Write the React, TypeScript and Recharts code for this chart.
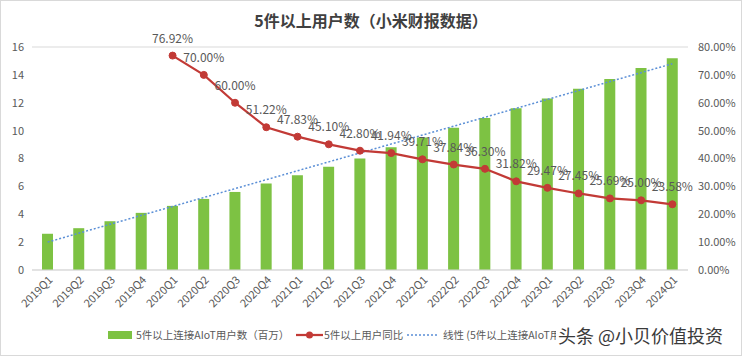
import React from "react";
import {
  ComposedChart,
  Bar,
  Line,
  XAxis,
  YAxis,
  CartesianGrid,
} from "recharts";

const quarters = [
  "2019Q1", "2019Q2", "2019Q3", "2019Q4",
  "2020Q1", "2020Q2", "2020Q3", "2020Q4",
  "2021Q1", "2021Q2", "2021Q3", "2021Q4",
  "2022Q1", "2022Q2", "2022Q3", "2022Q4",
  "2023Q1", "2023Q2", "2023Q3", "2023Q4",
  "2024Q1",
];

const users = [
  2.6, 3.0, 3.5, 4.1,
  4.6, 5.1, 5.6, 6.2,
  6.8, 7.4, 8.0, 8.8,
  9.5, 10.2, 10.9, 11.6,
  12.3, 13.0, 13.7, 14.5,
  15.2,
];

const yoy: (number | null)[] = [
  null, null, null, null,
  76.92, 70.0, 60.0, 51.22,
  47.83, 45.1, 42.8, 41.94,
  39.71, 37.84, 36.3, 31.82,
  29.47, 27.45, 25.69, 25.0,
  23.58,
];

// linear trendline: only its two ends
const trend: (number | null)[] = [
  2.0, null, null, null, null, null, null, null, null, null, null,
  null, null, null, null, null, null, null, null, null, 14.8,
];

const leftTicks = [0, 2, 4, 6, 8, 10, 12, 14, 16];
const rightTicks = [0, 10, 20, 30, 40, 50, 60, 70, 80];

const title = "5件以上用户数（小米财报数据）";
const seriesUsers = "5件以上连接AIoT用户数（百万）";
const seriesYoy = "5件以上用户同比";
const seriesTrend = "线性 (5件以上连接AIoT用户数（百万）)";
const watermark = "头条 @小贝价值投资";

const data = quarters.map((q, i) => ({
  q,
  users: users[i],
  yoy: yoy[i],
  trend: trend[i],
}));

const FONT = '"Noto Sans CJK SC", "Noto Sans", sans-serif';
const GRAY = "#595959";
const GREEN = "#7dc243";
const RED = "#c23a36";
const BLUE = "#5b8fd6";

const XTick = (props: any) => {
  const { x, y, payload } = props;
  return (
    <g transform={`translate(${x + 3},${y + 6}) rotate(-45)`}>
      <text
        x={0}
        y={0}
        dy="0.35em"
        textAnchor="end"
        fill={GRAY}
        fontSize={11}
        fontFamily={FONT}
      >
        {payload.value}
      </text>
    </g>
  );
};

const YoyLabel = (props: any) => {
  const { x, y, value } = props;
  if (value == null) return null;
  return (
    <text
      x={x}
      y={y - 13}
      textAnchor="middle"
      fill={GRAY}
      fontSize={12}
      fontFamily={FONT}
    >
      {Number(value).toFixed(2)}%
    </text>
  );
};

export default function App() {
  return (
    <div
      style={{
        position: "relative",
        width: 742,
        height: 356,
        background: "#fff",
        fontFamily: FONT,
        overflow: "hidden",
      }}
    >
      <style>{`body{margin:0;}`}</style>
      <ComposedChart
        width={742}
        height={356}
        data={data}
        margin={{ top: 47, right: 0, left: 0, bottom: 0 }}
        barCategoryGap={0}
      >
        <CartesianGrid
          vertical={false}
          stroke="#d9d9d9"
          strokeWidth={1}
        />
        <XAxis
          dataKey="q"
          height={86}
          interval={0}
          tick={<XTick />}
          tickLine={false}
          axisLine={{ stroke: "#d9d9d9" }}
          tickSize={0}
        />
        <YAxis
          yAxisId="left"
          orientation="left"
          width={32}
          domain={[0, 16]}
          ticks={leftTicks}
          tickLine={false}
          axisLine={false}
          tickSize={0}
          tickMargin={8}
          tick={{ fill: GRAY, fontSize: 11, fontFamily: FONT }}
        />
        <YAxis
          yAxisId="right"
          orientation="right"
          width={54}
          domain={[0, 80]}
          ticks={rightTicks}
          tickLine={false}
          axisLine={false}
          tickSize={0}
          tickMargin={10}
          tickFormatter={(v: number) => `${v.toFixed(2)}%`}
          tick={{ fill: GRAY, fontSize: 11, fontFamily: FONT }}
        />
        <Bar
          yAxisId="left"
          dataKey="users"
          fill={GREEN}
          barSize={11}
          isAnimationActive={false}
        />
        <Line
          yAxisId="left"
          dataKey="trend"
          stroke={BLUE}
          strokeWidth={1.5}
          strokeDasharray="2 2"
          dot={false}
          connectNulls
          isAnimationActive={false}
        />
        <Line
          yAxisId="right"
          dataKey="yoy"
          stroke={RED}
          strokeWidth={2.25}
          dot={{ r: 3.5, fill: RED, stroke: RED, strokeWidth: 1 }}
          label={<YoyLabel />}
          isAnimationActive={false}
        />
      </ComposedChart>

      {/* title */}
      <div
        style={{
          position: "absolute",
          left: 0,
          top: 8,
          width: 742,
          textAlign: "center",
          fontSize: 16,
          fontWeight: 700,
          color: "#404040",
          lineHeight: "24px",
        }}
      >
        {title}
      </div>

      {/* legend */}
      <div
        style={{
          position: "absolute",
          left: 0,
          top: 327,
          height: 16,
          width: 742,
          fontSize: 10.5,
          color: GRAY,
          lineHeight: "16px",
        }}
      >
        <div style={{ position: "absolute", left: 108, top: 4, width: 24, height: 8, background: GREEN }} />
        <div style={{ position: "absolute", left: 136, top: 0, whiteSpace: "nowrap" }}>{seriesUsers}</div>
        <svg style={{ position: "absolute", left: 296, top: 0 }} width={27} height={16}>
          <line x1={0} y1={8} x2={27} y2={8} stroke={RED} strokeWidth={2.25} />
          <circle cx={13.5} cy={8} r={3.5} fill={RED} />
        </svg>
        <div style={{ position: "absolute", left: 324, top: 0, whiteSpace: "nowrap" }}>{seriesYoy}</div>
        <svg style={{ position: "absolute", left: 407, top: 0 }} width={31} height={16}>
          <line x1={0} y1={8} x2={31} y2={8} stroke={BLUE} strokeWidth={1.5} strokeDasharray="2 2" />
        </svg>
        <div style={{ position: "absolute", left: 443, top: 0, whiteSpace: "nowrap" }}>{seriesTrend}</div>
      </div>

      {/* watermark */}
      <div
        style={{
          position: "absolute",
          left: 556,
          top: 323,
          padding: "0 4px 0 2px",
          background: "#fff",
          fontSize: 18,
          lineHeight: "24px",
          color: "#3a3a3a",
          whiteSpace: "nowrap",
        }}
      >
        {watermark}
      </div>

      {/* frame */}
      <div
        style={{
          position: "absolute",
          left: 0,
          top: 0,
          width: 742,
          height: 356,
          boxSizing: "border-box",
          border: "1px solid #d9d9d9",
          pointerEvents: "none",
        }}
      />
    </div>
  );
}
